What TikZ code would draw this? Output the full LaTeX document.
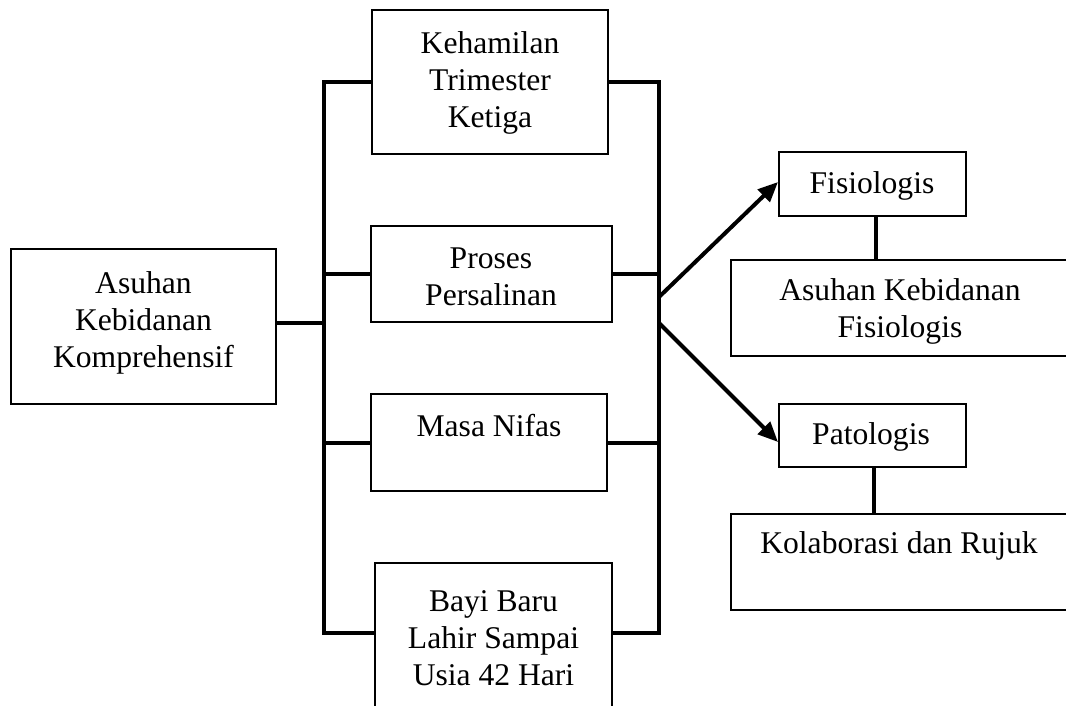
\documentclass[tikz,border=0pt]{standalone}
\usepackage{fontspec}
\setmainfont{Liberation Serif}
\usetikzlibrary{arrows.meta}
\begin{document}
\begin{tikzpicture}[x=1pt,y=-1pt,
  box/.style={draw, line width=2pt, inner sep=0pt},
  txt/.style={align=center, font=\fontsize{31.6}{37}\selectfont, inner sep=0pt},
  conn/.style={line width=4pt},
  arr/.style={line width=4pt, -{Triangle[length=20pt,width=17pt]}}]
\useasboundingbox (0,0) rectangle (1066,705);
% boxes
\node[box, minimum width=265pt, minimum height=155pt] (lb)  at (143.5,326.5) {};
\node[box, minimum width=236pt, minimum height=144pt] (keh) at (490,82) {};
\node[box, minimum width=241pt, minimum height=96pt]  (pro) at (491.5,274) {};
\node[box, minimum width=236pt, minimum height=97pt]  (mas) at (489,442.5) {};
\node[box, minimum width=237pt, minimum height=200pt] (bay) at (493.5,663) {};
\node[box, minimum width=187pt, minimum height=64pt]  (fis) at (872.5,184) {};
\node[box, minimum width=369pt, minimum height=96pt]  (akf) at (915.5,308) {};
\node[box, minimum width=187pt, minimum height=63pt]  (pat) at (872.5,435.5) {};
\node[box, minimum width=369pt, minimum height=96pt]  (kol) at (915.5,562) {};
% texts
\node[txt] (tlb)  at (143.5,323) {Asuhan\\Kebidanan\\Komprehensif};
\node[txt] (tkeh) at (490,83) {Kehamilan\\Trimester\\Ketiga};
\node[txt] (tpro) at (491,277) {Proses\\Persalinan};
\node[txt] (tmas) at (489,426) {Masa Nifas};
\node[txt] (tbay) at (493.5,638) {Bayi Baru\\Lahir Sampai\\Usia 42 Hari};
\node[txt] (tfis) at (872,186) {Fisiologis};
\node[txt] (takf) at (900,311) {Asuhan Kebidanan\\Fisiologis};
\node[txt] (tpat) at (871,437) {Patologis};
\node[txt] (tkol) at (899,546) {Kolaborasi dan Rujuk};
% bus coordinates
\coordinate (LT) at (324,82);
\coordinate (LB) at (324,633);
\coordinate (LM) at (324,323);
\coordinate (RT) at (659,82);
\coordinate (RB) at (659,633);
\coordinate (A1) at (659,297);
\coordinate (A2) at (659,323);
% connectors
\draw[conn] (keh.west) -- (LT) -- (LB) -- (bay.west |- LB);
\draw[conn] (keh.east) -- (RT) -- (RB) -- (bay.east |- RB);
\draw[conn] (lb.east |- LM) -- (LM);
\draw[conn] (pro.west -| LT) -- (pro.west);
\draw[conn] (pro.east) -- (pro.east -| RT);
\draw[conn] (mas.west -| LT) -- (mas.west);
\draw[conn] (mas.east) -- (mas.east -| RT);
\draw[arr] (A1) -- ([yshift=2pt]fis.west);
\draw[arr] (A2) -- ([yshift=-6.5pt]pat.west);
\draw[conn] ([xshift=3.5pt]fis.south) -- ([xshift=3.5pt]fis.south |- akf.north);
\draw[conn] ([xshift=1.5pt]pat.south) -- ([xshift=1.5pt]pat.south |- kol.north);
\end{tikzpicture}
\end{document}
